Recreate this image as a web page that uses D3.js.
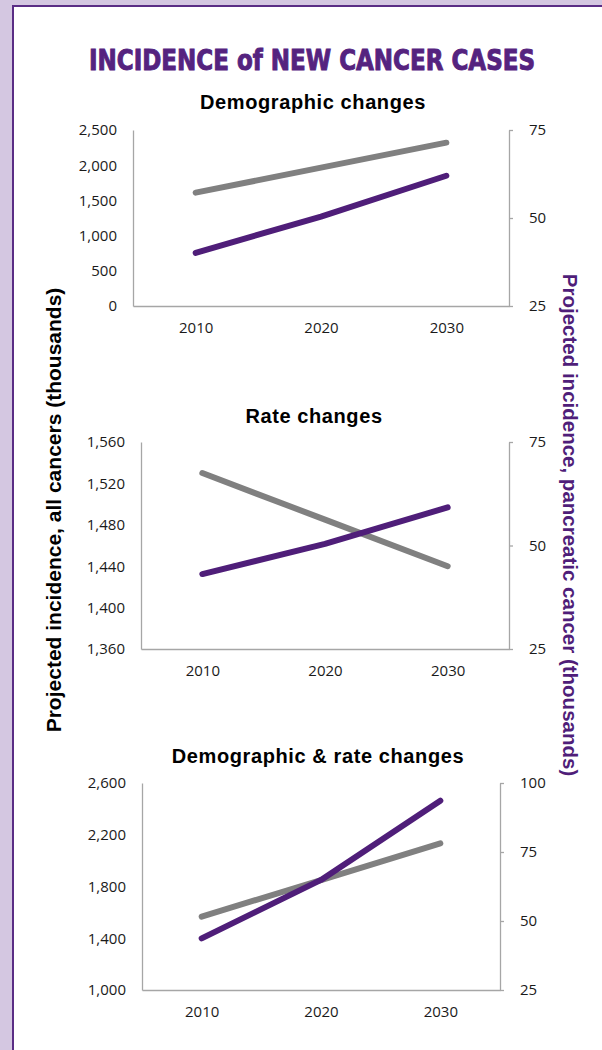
<!DOCTYPE html>
<html>
<head>
<meta charset="utf-8">
<script src="https://cdn.jsdelivr.net/npm/d3@7"></script>
<style>
  body { margin: 0; background: #d4c7e1; }
  svg { display: block; }
</style>
</head>
<body>
<script>
// years on the x axis
const years = ["2010", "2020", "2030"];

// panel titles
const panelTitles = ["Demographic changes", "Rate changes", "Demographic & rate changes"];

// all cancers (left axis, thousands)
const demoAll = [1610, 1965, 2320];
const rateAll = [1530, 1485, 1440];
const bothAll = [1567, 1850, 2134];

// pancreatic cancer (right axis, thousands)
const demoPanc = [40.1, 50.4, 62.0];
const ratePanc = [43.1, 50.4, 59.2];
const bothPanc = [43.7, 64.9, 93.6];

// axis ticks
const demoLeftTicks = [0, 500, 1000, 1500, 2000, 2500];
const rateLeftTicks = [1360, 1400, 1440, 1480, 1520, 1560];
const bothLeftTicks = [1000, 1400, 1800, 2200, 2600];
const demoRightTicks = [25, 50, 75];
const rateRightTicks = [25, 50, 75];
const bothRightTicks = [25, 50, 75, 100];

const W = 602, H = 1050;
const purple = "#4f1e79", gray = "#808080", axisGray = "#a6a6a6";

const svg = d3.select("body").append("svg")
    .attr("width", W)
    .attr("height", H);

// white card with purple edge
svg.append("rect")
    .attr("x", 13).attr("y", 6)
    .attr("width", W + 10).attr("height", H + 10)
    .attr("fill", "#fff")
    .attr("stroke", "#5a2d85")
    .attr("stroke-width", 2);

svg.append("text")
    .attr("x", 89).attr("y", 70)
    .attr("textLength", 446)
    .attr("lengthAdjust", "spacingAndGlyphs")
    .style("font-family", "'Liberation Sans Narrow', 'DejaVu Sans Condensed', 'Liberation Sans', sans-serif")
    .style("font-weight", "bold")
    .style("font-size", "28px")
    .attr("fill", "#55237f")
    .attr("stroke", "#55237f")
    .attr("stroke-width", 0.9)
    .text("INCIDENCE of NEW CANCER CASES");

// side titles
svg.append("text")
    .attr("transform", "translate(61,510) rotate(-90)")
    .attr("text-anchor", "middle")
    .style("font-family", "'Liberation Sans', Arial, sans-serif")
    .style("font-weight", "bold")
    .style("font-size", "21px")
    .attr("fill", "#000")
    .text("Projected incidence, all cancers (thousands)");

svg.append("text")
    .attr("transform", "translate(563,525) rotate(90)")
    .attr("text-anchor", "middle")
    .style("font-family", "'Liberation Sans', Arial, sans-serif")
    .style("font-weight", "bold")
    .style("font-size", "20.5px")
    .attr("fill", "#4f1e79")
    .text("Projected incidence, pancreatic cancer (thousands)");

const panels = [
    { title: panelTitles[0], all: demoAll, panc: demoPanc, lt: demoLeftTicks, rt: demoRightTicks,
      x0: 133, x1: 509, top: 130, bot: 306, titleX: 313, titleY: 109 },
    { title: panelTitles[1], all: rateAll, panc: ratePanc, lt: rateLeftTicks, rt: rateRightTicks,
      x0: 141, x1: 509, top: 442, bot: 649, titleX: 314, titleY: 423 },
    { title: panelTitles[2], all: bothAll, panc: bothPanc, lt: bothLeftTicks, rt: bothRightTicks,
      x0: 142, x1: 500, top: 783, bot: 990, titleX: 318, titleY: 763 }
];

panels.forEach(function (p) {
    const g = svg.append("g");

    const x = d3.scalePoint().domain(years).range([p.x0, p.x1]).padding(0.5);
    const yL = d3.scaleLinear().domain(d3.extent(p.lt)).range([p.bot, p.top]);
    const yR = d3.scaleLinear().domain(d3.extent(p.rt)).range([p.bot, p.top]);

    g.append("text")
        .attr("x", p.titleX).attr("y", p.titleY)
        .attr("text-anchor", "middle")
        .style("font-family", "'Liberation Sans', Arial, sans-serif")
        .style("font-weight", "bold")
        .style("font-size", "20px")
        .style("letter-spacing", "0.6px")
        .text(p.title);

    const left = g.append("g")
        .attr("transform", "translate(" + p.x0 + ",0)")
        .call(d3.axisLeft(yL).tickValues(p.lt).tickFormat(d3.format(",")).tickSize(0).tickPadding(16));

    const right = g.append("g")
        .attr("transform", "translate(" + p.x1 + ",0)")
        .call(d3.axisRight(yR).tickValues(p.rt).tickSizeInner(4).tickSizeOuter(0).tickPadding(16));

    const bottom = g.append("g")
        .attr("transform", "translate(0," + p.bot + ")")
        .call(d3.axisBottom(x).tickSize(0).tickPadding(16));

    [left, right, bottom].forEach(function (a) {
        a.select(".domain").attr("stroke", axisGray).attr("stroke-width", 1.3);
        a.selectAll(".tick line").attr("stroke", axisGray).attr("stroke-width", 1.3);
        a.selectAll("text")
            .style("font-family", "'Open Sans', sans-serif")
            .style("font-size", "15px")
            .attr("fill", "#1a1a1a");
    });

    const lineAll = d3.line()
        .x((d, i) => x(years[i]))
        .y(d => yL(d));
    const linePanc = d3.line()
        .x((d, i) => x(years[i]))
        .y(d => yR(d));

    g.append("path")
        .attr("d", lineAll(p.all))
        .attr("fill", "none")
        .attr("stroke", gray)
        .attr("stroke-width", 6)
        .attr("stroke-linecap", "round")
        .attr("stroke-linejoin", "round");

    g.append("path")
        .attr("d", linePanc(p.panc))
        .attr("fill", "none")
        .attr("stroke", purple)
        .attr("stroke-width", 6)
        .attr("stroke-linecap", "round")
        .attr("stroke-linejoin", "round");
});
</script>
</body>
</html>
